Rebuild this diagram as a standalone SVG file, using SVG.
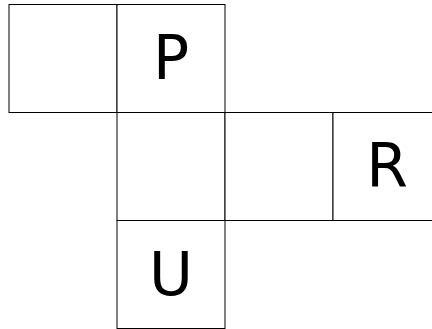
<svg xmlns="http://www.w3.org/2000/svg" width="432" height="329" viewBox="0 0 432 329">
<style>
.face{fill:#fff;stroke:#000;stroke-width:1}
.lbl{font-family:"DejaVu Sans",sans-serif;font-size:60px;fill:#000;text-anchor:middle}
</style>
<rect width="432" height="329" fill="#fff"/>
<g id="face-top-left"><rect class="face" x="9" y="4.5" width="108" height="108"/></g>
<g id="face-P"><rect class="face" x="117" y="4.5" width="108" height="108"/><text class="lbl" x="171" y="79">P</text></g>
<g id="face-middle"><rect class="face" x="117" y="112.5" width="108" height="108"/></g>
<g id="face-right"><rect class="face" x="225" y="112.5" width="108" height="108"/></g>
<g id="face-R"><rect class="face" x="333" y="112.5" width="108" height="108"/><text class="lbl" x="387" y="187">R</text></g>
<g id="face-U"><rect class="face" x="117" y="220.5" width="108" height="108"/><text class="lbl" x="171" y="295">U</text></g>
<g id="connectors"></g>
</svg>
